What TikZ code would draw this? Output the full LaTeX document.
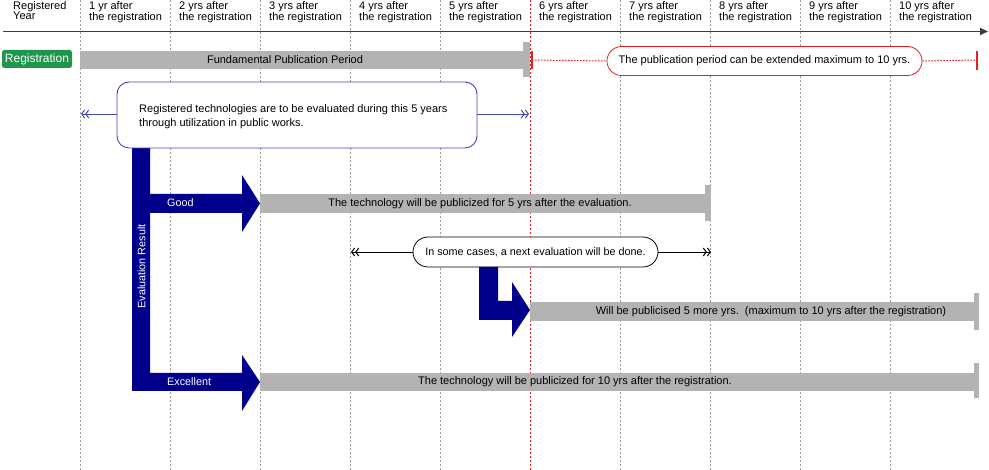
\documentclass[tikz,border=0pt]{standalone}
\usepackage{fontspec}
\setmainfont{Liberation Sans}
\usetikzlibrary{arrows.meta,shapes.misc}
\definecolor{navy}{RGB}{0,0,140}
\definecolor{bargray}{RGB}{179,179,179}
\definecolor{regreen}{RGB}{30,150,75}
\definecolor{exred}{RGB}{230,30,40}
\definecolor{cblue}{RGB}{70,70,180}
\definecolor{axisgray}{RGB}{60,60,60}
\tikzset{
  hdr/.style={anchor=north west, inner sep=0pt, align=left, font=\fontsize{11}{10}\selectfont},
  btxt/.style={inner sep=0pt, font=\fontsize{11}{13}\selectfont},
  wtxt/.style={inner sep=0pt, text=white, font=\fontsize{10.8}{12}\selectfont},
  gridline/.style={draw=gray!80, line width=0.5pt, dash pattern=on 2pt off 2pt},
  redgrid/.style={draw=exred, line width=0.6pt, dash pattern=on 2pt off 2pt},
  Dchev/.tip={Straight Barb[length=3pt,width=8pt,line width=1pt]Straight Barb[length=3pt,width=8pt,line width=1pt]},
}
\begin{document}
\begin{tikzpicture}[x=1pt,y=-1pt]
\useasboundingbox (0,0) rectangle (989,470);
% grid lines
\foreach \gx in {80,170,260,350,440,620,710,800,890}{
  \draw[gridline] (\gx,0) -- (\gx,470);
}
\draw[redgrid] (530,0) -- (530,470);
% axis
\coordinate (axL) at (3,31.5);
\coordinate (axR) at (988,31.5);
\draw[axisgray, line width=1.6pt, -{Triangle[length=8pt,width=7pt]}] (axL) -- (axR);
% headers
\node[hdr] (h0) at (13,1.5) {Registered\\Year};
\foreach \i/\gx in {1/89,2/179,3/269,4/359,5/449,6/539,7/629,8/719,9/809,10/899}{
  \ifnum\i=1
    \node[hdr] (h\i) at (\gx,1.5) {\i\ yr after\\the registration};
  \else
    \node[hdr] (h\i) at (\gx,1.5) {\i\ yrs after\\the registration};
  \fi
}
% registration
\node[fill=regreen, rounded corners=2.5pt, text=white, inner sep=0pt, minimum width=70pt, minimum height=18pt, font=\fontsize{12}{14}\selectfont] (reg) at (37,59) {Registration};
% fundamental bar
\fill[bargray] (80,51) rectangle (524,69);
\fill[bargray] (523,42) rectangle (530,77);
\node[btxt] (fpp) at (285,60) {Fundamental Publication Period};
% red extension
\node[draw=exred, line width=0.8pt, fill=white, rounded rectangle, minimum width=315pt, minimum height=29pt, inner sep=0pt, font=\fontsize{11}{13}\selectfont] (ext) at (764.5,61) {The publication period can be extended maximum to 10 yrs.};
\coordinate (rs) at (532,60);
\coordinate (re) at (977,60);
\draw[exred, line width=1pt, dash pattern=on 1.5pt off 1.5pt] (rs) -- (ext.west);
\draw[exred, line width=1pt, dash pattern=on 1.5pt off 1.5pt] (ext.east) -- (re);
\draw[exred, line width=2pt] (532,51) -- (532,69);
\draw[exred, line width=2pt] (977,51) -- (977,70);
% navy main evaluation shape
\fill[navy] (132,140) -- (132,391) -- (242,391) -- (242,411) -- (260,382) -- (242,355) -- (242,373) -- (150,373) -- (150,213) -- (242,213) -- (242,232) -- (260,203.5) -- (242,175) -- (242,194) -- (150,194) -- (150,140) -- cycle;
\node[wtxt, rotate=90] (evr) at (141.5,266.5) {Evaluation Result};
\node[wtxt, anchor=west] (good) at (167,203) {Good};
\node[wtxt, anchor=west] (exc) at (167,382) {Excellent};
% blue callout
\node[draw=cblue, line width=0.9pt, fill=white, rounded corners=12pt, minimum width=360pt, minimum height=66pt, inner sep=0pt] (call) at (297,115) {};
\node[anchor=west, align=left, inner sep=0pt, font=\fontsize{11}{14}\selectfont] (calltxt) at (139,117) {Registered technologies are to be evaluated during this 5 years\\through utilization in public works.};
\coordinate (cl) at (81,114);
\coordinate (cr) at (529,114);
\draw[cblue, line width=0.9pt, -{Dchev}] (call.west |- cl) -- (cl);
\draw[cblue, line width=0.9pt, -{Dchev}] (call.east |- cr) -- (cr);
% good bar
\fill[bargray] (260,194) rectangle (706,213);
\fill[bargray] (705,185) rectangle (711,221);
\node[btxt] (gtxt) at (480,203.5) {The technology will be publicized for 5 yrs after the evaluation.};
% next evaluation pill
\node[draw=black, line width=0.8pt, fill=white, rounded rectangle, minimum width=245pt, minimum height=30pt, inner sep=0pt, font=\fontsize{10.8}{13}\selectfont] (next) at (535.5,252) {In some cases, a next evaluation will be done.};
\coordinate (nl) at (351,252);
\coordinate (nr) at (711,252);
\draw[black, line width=0.7pt, -{Dchev}] (next.west) -- (nl);
\draw[black, line width=0.7pt, -{Dchev}] (next.east) -- (nr);
% small navy arrow
\fill[navy] (479,267) -- (479,320) -- (512,320) -- (512,337) -- (530,310) -- (512,282) -- (512,301) -- (498,301) -- (498,267) -- cycle;
% will be publicised bar
\fill[bargray] (530,302) rectangle (975,321);
\fill[bargray] (974,293) rectangle (979,330);
\node[btxt] (wtxt2) at (771,311.5) {Will be publicised 5 more yrs.\ \ (maximum to 10 yrs after the registration)};
% excellent bar
\fill[bargray] (260,373) rectangle (975,391);
\fill[bargray] (974,363) rectangle (979,398);
\node[btxt] (etxt) at (575,382) {The technology will be publicized for 10 yrs after the registration.};
\end{tikzpicture}
\end{document}
